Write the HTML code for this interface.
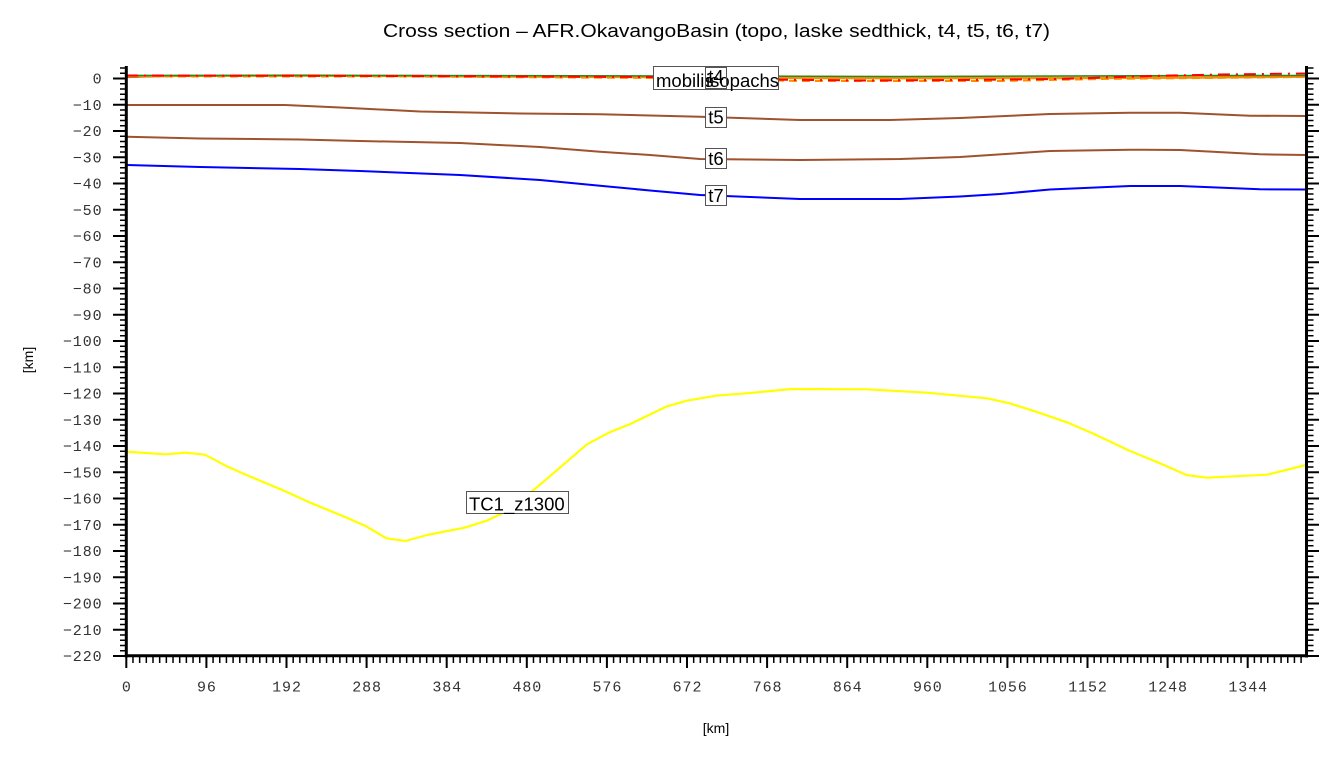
<!DOCTYPE html>
<html>
<head>
<meta charset="utf-8">
<style>
  html, body { margin:0; padding:0; background:#fff; }
  svg { display:block; }
  .lbl { font-family: "Liberation Sans", sans-serif; font-size:18.5px; fill:#000; }
  .tk { font-family: "Liberation Mono", monospace; font-size:15px; fill:#333; letter-spacing:0.9px; }
</style>
</head>
<body>
<svg width="1340" height="757" viewBox="0 0 1340 757" xmlns="http://www.w3.org/2000/svg">
  <rect width="1340" height="757" fill="#fff"/>

  <!-- Title -->
  <text x="716.5" y="37" text-anchor="middle" style="font-family:'Liberation Sans',sans-serif;font-size:18px;fill:#000" textLength="667" lengthAdjust="spacingAndGlyphs">Cross section – AFR.OkavangoBasin (topo, laske sedthick, t4, t5, t6, t7)</text>

  <!-- Axis labels -->
  <text x="716" y="733" text-anchor="middle" style="font-family:'Liberation Sans',sans-serif;font-size:14px;fill:#000">[km]</text>
  <text transform="translate(33,360) rotate(-90)" text-anchor="middle" style="font-family:'Liberation Sans',sans-serif;font-size:14px;fill:#000">[km]</text>

  <!-- Near-zero lines -->
  <polyline fill="none" stroke="#a0522d" stroke-width="1.2" points="126,77.5 200,75.5 350,75.5 500,76.5 650,77 800,78.5 950,78.5 1100,78 1200,77.5 1306,77"/>
  <polyline fill="none" stroke="#ff8c00" stroke-width="2.5" points="126,76 300,75.5 500,76.5 640,77 720,77.5 900,78 1060,78 1200,77.5 1306,76.5"/>
  <polyline fill="none" stroke="#ff8c00" stroke-width="2" stroke-dasharray="8 5" points="126,76.5 400,76.5 650,78 800,81 1000,81 1100,79 1200,78 1306,77"/>
  <polyline fill="none" stroke="#228b22" stroke-width="1.5" points="126,75.5 400,75.5 700,76 900,76.5 1060,76 1200,75.5 1306,75.5"/>
  <polyline fill="none" stroke="#ff0000" stroke-width="2" stroke-dasharray="12 6 2 6" points="126,75.5 400,76 650,77 760,79.5 860,80.5 960,80 1060,79 1150,76 1220,74.5 1306,73.5"/>

  <!-- t5, t6, t7 -->
  <polyline fill="none" stroke="#a0522d" stroke-width="2" points="126,105 285,105 340,107.5 420,111.5 520,113.5 600,114.3 700,116.7 800,120 890,120 960,118 1050,114 1130,112.7 1180,112.7 1250,115.7 1306,116"/>
  <polyline fill="none" stroke="#a0522d" stroke-width="2" points="126,136.7 200,138.5 300,139.5 360,141 460,143 540,147 600,151.7 650,155 700,159 800,160 900,159 960,157 1050,151 1130,149.7 1180,150 1260,154.3 1306,155"/>
  <polyline fill="none" stroke="#0000ff" stroke-width="2" points="126,165 200,167 300,169 360,171 460,175 540,180 600,185.7 650,190.5 700,195 800,199 900,199 960,196.5 1000,194 1050,189.5 1130,186 1180,186 1260,189.3 1306,189.5"/>

  <!-- TC1_z1300 -->
  <polyline fill="none" stroke="#ffff00" stroke-width="2.2" stroke-linejoin="round" points="126,451.7 165.5,454.3 186.2,452.7 205,454.7 225.7,465.7 246.4,475 284,490.7 310.4,502.7 344.3,516.7 365,525.7 386.4,538.3 405.6,541 427,535 464.7,527.7 486.6,520.7 502.4,513.3 534.4,489.3 547.5,478.3 587,444.3 609.6,432.3 630.3,424 666,406.7 686.8,400.7 716,395.7 753.6,392.7 791.3,389 866.5,389.3 926.8,392.7 987,398.3 1009.6,403.3 1036,411.7 1068,422.7 1092.4,433.3 1130,451 1160,463.3 1186.4,475 1207,477.7 1267.4,474.7 1306,465"/>

  <!-- Line labels -->
  <rect x="653.5" y="66.5" width="125" height="23" fill="#fff" stroke="#555" stroke-width="1"/>
  <text x="656" y="87" class="lbl">mobilis</text>
  <text x="706" y="87" class="lbl">isopachs</text>
  <rect x="705.5" y="67.5" width="21" height="21" fill="none" stroke="#555" stroke-width="1"/>
  <text x="716" y="83" text-anchor="middle" class="lbl">t4</text>

  <rect x="705.5" y="107.5" width="21" height="20" fill="#fff" stroke="#555" stroke-width="1"/>
  <text x="716" y="123.5" text-anchor="middle" class="lbl">t5</text>
  <rect x="705.5" y="148.5" width="21" height="20" fill="#fff" stroke="#555" stroke-width="1"/>
  <text x="716" y="165" text-anchor="middle" class="lbl">t6</text>
  <rect x="705.5" y="185.5" width="21" height="20" fill="#fff" stroke="#555" stroke-width="1"/>
  <text x="716" y="202" text-anchor="middle" class="lbl">t7</text>

  <rect x="466.5" y="491.5" width="102" height="22" fill="#fff" stroke="#555" stroke-width="1"/>
  <text x="469" y="510.5" class="lbl">TC1_z1300</text>

  <!-- Axes -->
  <!-- left axis -->
  <line x1="126.3" y1="66" x2="126.3" y2="657.5" stroke="#000" stroke-width="3"/>
  <line x1="123" y1="67.25" x2="123" y2="657" stroke="#000" stroke-width="6" stroke-dasharray="1.5 3.75"/>
  <line x1="119.5" y1="77.5" x2="119.5" y2="658" stroke="#000" stroke-width="13" stroke-dasharray="2 24.25"/>
  <!-- right axis -->
  <line x1="1306.5" y1="66" x2="1306.5" y2="657.5" stroke="#000" stroke-width="3"/>
  <line x1="1310" y1="67.25" x2="1310" y2="657" stroke="#000" stroke-width="7" stroke-dasharray="1.5 3.75"/>
  <line x1="1312.5" y1="77.5" x2="1312.5" y2="658" stroke="#000" stroke-width="13" stroke-dasharray="2 24.25"/>
  <!-- bottom axis -->
  <line x1="125" y1="655.8" x2="1308" y2="655.8" stroke="#000" stroke-width="3"/>
  <line x1="125.55" y1="659.5" x2="1307" y2="659.5" stroke="#000" stroke-width="7" stroke-dasharray="1.5 5.175"/>
  <line x1="125.3" y1="662" x2="1307" y2="662" stroke="#000" stroke-width="12" stroke-dasharray="2 78.1"/>

  <!-- Y tick labels -->
  <g class="tk" text-anchor="end">
    <text x="102.5" y="83.5">0</text>
    <text x="102.5" y="109.75">−10</text>
    <text x="102.5" y="136">−20</text>
    <text x="102.5" y="162.25">−30</text>
    <text x="102.5" y="188.5">−40</text>
    <text x="102.5" y="214.75">−50</text>
    <text x="102.5" y="241">−60</text>
    <text x="102.5" y="267.25">−70</text>
    <text x="102.5" y="293.5">−80</text>
    <text x="102.5" y="319.75">−90</text>
    <text x="102.5" y="346">−100</text>
    <text x="102.5" y="372.25">−110</text>
    <text x="102.5" y="398.5">−120</text>
    <text x="102.5" y="424.75">−130</text>
    <text x="102.5" y="451">−140</text>
    <text x="102.5" y="477.25">−150</text>
    <text x="102.5" y="503.5">−160</text>
    <text x="102.5" y="529.75">−170</text>
    <text x="102.5" y="556">−180</text>
    <text x="102.5" y="582.25">−190</text>
    <text x="102.5" y="608.5">−200</text>
    <text x="102.5" y="634.75">−210</text>
    <text x="102.5" y="661">−220</text>
  </g>

  <!-- X tick labels -->
  <g class="tk" text-anchor="middle">
    <text x="126.8" y="691.5">0</text>
    <text x="206.9" y="691.5">96</text>
    <text x="287" y="691.5">192</text>
    <text x="367.1" y="691.5">288</text>
    <text x="447.2" y="691.5">384</text>
    <text x="527.3" y="691.5">480</text>
    <text x="607.4" y="691.5">576</text>
    <text x="687.5" y="691.5">672</text>
    <text x="767.6" y="691.5">768</text>
    <text x="847.7" y="691.5">864</text>
    <text x="927.8" y="691.5">960</text>
    <text x="1007.9" y="691.5">1056</text>
    <text x="1088" y="691.5">1152</text>
    <text x="1168.1" y="691.5">1248</text>
    <text x="1248.2" y="691.5">1344</text>
  </g>
</svg>
</body>
</html>
